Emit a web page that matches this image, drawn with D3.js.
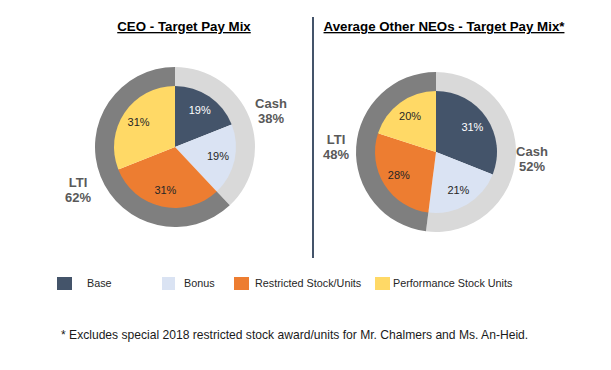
<!DOCTYPE html>
<html>
<head>
<meta charset="utf-8">
<script src="https://cdn.jsdelivr.net/npm/d3@7"></script>
<style>
  body { margin: 0; background: #fff; }
  svg { display: block; font-family: "Liberation Sans", Arial, sans-serif; }
</style>
</head>
<body>
<svg width="611" height="370"></svg>
<script>
// data
const components = ["Base", "Bonus", "Restricted Stock/Units", "Performance Stock Units"];
const ceoMix = [19, 19, 31, 31];
const neoMix = [31, 21, 28, 20];
const groups = ["Cash", "LTI"];
const ceoGroups = [38, 62];
const neoGroups = [52, 48];
const titles = ["CEO - Target Pay Mix", "Average Other NEOs - Target Pay Mix*"];
const footnote = "* Excludes special 2018 restricted stock award/units for Mr. Chalmers and Ms. An-Heid.";

const compColors = ["#44546a", "#dae3f3", "#ed7d31", "#ffd966"];
const groupColors = ["#d9d9d9", "#7f7f7f"];

const svg = d3.select("svg");

const pie = d3.pie().sort(null).value(d => d);
const innerArc = d3.arc().innerRadius(0).outerRadius(61);
const ringArc = d3.arc().innerRadius(60).outerRadius(80);
const labelArc = d3.arc().innerRadius(44).outerRadius(44);

// one chart per panel
const panels = [
  { title: titles[0], mix: ceoMix, grp: ceoGroups, cx: 175, cy: 147, tx: 184,
    cash: [271, 108], lti: [78, 187] },
  { title: titles[1], mix: neoMix, grp: neoGroups, cx: 436, cy: 152, tx: 444,
    cash: [532, 156], lti: [336, 144] }
];

panels.forEach(p => {
  svg.append("text")
    .attr("x", p.tx).attr("y", 31)
    .attr("text-anchor", "middle")
    .style("font-size", "13.3px").style("font-weight", "bold")
    .style("text-decoration", "underline")
    .attr("fill", "#000")
    .text(p.title);

  const g = svg.append("g").attr("transform", `translate(${p.cx},${p.cy})`);

  g.selectAll(".ring")
    .data(pie(p.grp))
    .enter().append("path")
    .attr("class", "ring")
    .attr("d", ringArc)
    .attr("fill", (d, i) => groupColors[i]);

  g.selectAll(".slice")
    .data(pie(p.mix))
    .enter().append("path")
    .attr("class", "slice")
    .attr("d", innerArc)
    .attr("fill", (d, i) => compColors[i]);

  g.selectAll(".pct")
    .data(pie(p.mix))
    .enter().append("text")
    .attr("class", "pct")
    .attr("transform", d => `translate(${labelArc.centroid(d)})`)
    .attr("text-anchor", "middle")
    .attr("dy", "0.35em")
    .style("font-size", "11px")
    .attr("fill", (d, i) => i === 0 ? "#fff" : "#262626")
    .text(d => d.data + "%");

  // group labels
  [[p.cash, 0], [p.lti, 1]].forEach(([pos, i]) => {
    const t = svg.append("text")
      .attr("x", pos[0]).attr("y", pos[1])
      .attr("text-anchor", "middle")
      .style("font-size", "13px").style("font-weight", "bold")
      .attr("fill", "#595959");
    t.append("tspan").attr("x", pos[0]).text(groups[i]);
    t.append("tspan").attr("x", pos[0]).attr("dy", 15).text(p.grp[i] + "%");
  });
});

// divider
svg.append("line")
  .attr("x1", 313).attr("x2", 313)
  .attr("y1", 17).attr("y2", 258)
  .attr("stroke", "#44546a").attr("stroke-width", 2);

// legend
const legendX = [57, 162, 234, 375];
const legend = svg.selectAll(".legend-item")
  .data(components)
  .enter().append("g")
  .attr("class", "legend-item")
  .attr("transform", (d, i) => `translate(${legendX[i]},277)`);

legend.append("rect")
  .attr("width", (d, i) => i === 1 ? 13 : 15)
  .attr("height", 13)
  .attr("fill", (d, i) => compColors[i]);

legend.append("text")
  .attr("x", (d, i) => [30, 22, 21, 18][i])
  .attr("y", 10)
  .style("font-size", "10.8px")
  .attr("fill", "#262626")
  .text(d => d);

svg.append("text")
  .attr("x", 61).attr("y", 339)
  .style("font-size", "12.1px")
  .attr("fill", "#1a1a1a")
  .text(footnote);
</script>
</body>
</html>
